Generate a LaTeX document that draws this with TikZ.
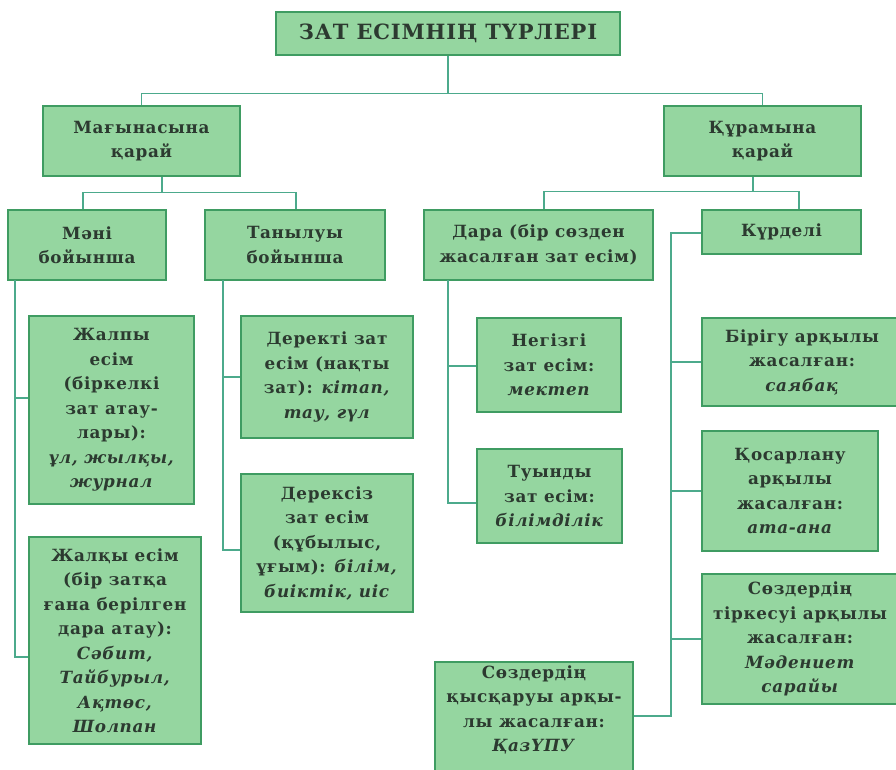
\documentclass[tikz,border=0pt]{standalone}
\usepackage{fontspec}
\usetikzlibrary{calc}
\setmainfont{DejaVu Serif}[LetterSpace=4]
\definecolor{fillcol}{HTML}{95D6A0}
\definecolor{bordcol}{HTML}{3F9C62}
\definecolor{linecol}{HTML}{4CAA8C}
\definecolor{txtcol}{HTML}{2C3A30}
\begin{document}
\begin{tikzpicture}[x=1pt,y=-1pt,
  box/.style={draw=bordcol, fill=fillcol, line width=1.3pt, inner sep=0pt, align=center,
    text=txtcol, font=\bfseries\fontsize{16.8}{24.5}\selectfont},
  plain/.style={inner sep=0pt, align=center, text=txtcol, font=\bfseries\fontsize{16.8}{24.5}\selectfont},
  conn/.style={draw=linecol, line width=1.5pt}]
\useasboundingbox (0,0) rectangle (896,770);
\fill[white] (0,0) rectangle (896,770);
% boxes
\node[box, minimum width=344pt, minimum height=43pt, font=\bfseries\fontsize{21}{24}\selectfont] (title) at (448,33.5) {ЗАТ ЕСІМНІҢ ТҮРЛЕРІ};
\node[box, minimum width=197pt, minimum height=70pt] (mag) at (141.5,141) {Мағынасына\\қарай};
\node[box, minimum width=197pt, minimum height=70pt] (qur) at (762.5,141) {Құрамына\\қарай};
\node[box, minimum width=158pt, minimum height=70pt] (mani) at (87,245) {Мәні\\бойынша};
\node[box, minimum width=180pt, minimum height=70pt] (tany) at (295,245) {Танылуы\\бойынша};
\node[box, minimum width=229pt, minimum height=70pt] (dara) at (538.5,245) {Дара (бір сөзден\\жасалған зат есім)};
\node[box, minimum width=159pt, minimum height=44pt] (kurd) at (781.5,232) {Күрделі};
\node[box, minimum width=165pt, minimum height=188pt] (zhalpy) at (111.5,410) {Жалпы\\есім\\(біркелкі\\зат атау-\\лары):\\\textit{ұл, жылқы,}\\\textit{журнал}};
\node[box, minimum width=172pt, minimum height=207pt] (zhalqy) at (115,640.5) {Жалқы есім\\(бір затқа\\ғана берілген\\дара атау):\\\textit{Сәбит,}\\\textit{Тайбурыл,}\\\textit{Ақтөс,}\\\textit{Шолпан}};
\node[box, minimum width=172pt, minimum height=122pt] (derekti) at (327,377) {Деректі зат\\есім (нақты\\зат): \textit{кітап,}\\\textit{тау, гүл}};
\node[box, minimum width=172pt, minimum height=138pt] (dereksiz) at (327,543) {Дерексіз\\зат есім\\(құбылыс,\\ұғым): \textit{білім,}\\\textit{биіктік, иіс}};
\node[box, minimum width=144pt, minimum height=94pt] (negizgi) at (549,365) {Негізгі\\зат есім:\\\textit{мектеп}};
\node[box, minimum width=145pt, minimum height=94pt] (tuyndy) at (549.5,496) {Туынды\\зат есім:\\\textit{білімділік}};
\node[box, minimum width=200pt, minimum height=88pt] (birigu) at (802,362) {Бірігу арқылы\\жасалған:\\\textit{саябақ}};
\node[box, minimum width=176pt, minimum height=120pt] (qosar) at (790,491) {Қосарлану\\арқылы\\жасалған:\\\textit{ата-ана}};
\node[box, minimum width=196pt, minimum height=130pt] (tirkes) at (800,639) {Сөздердің\\тіркесуі арқылы\\жасалған:\\\textit{Мәдениет}\\\textit{сарайы}};
\node[box, minimum width=198pt, minimum height=113pt] (qysq) at (534,718.5) {};
\node[plain] (qysqtext) at (534,710) {Сөздердің\\қысқаруы арқы-\\лы жасалған:\\\textit{ҚазҮПУ}};
% connectors
\coordinate (t1) at ($(title.south)+(0,38)$);
\draw[conn] (title.south) -- (t1);
\draw[conn] (mag.north) |- (t1) -| (qur.north);
% left subtree
\coordinate (m0) at ($(mag.south)+(20.5,0)$);
\coordinate (m1) at ($(m0)+(0,16)$);
\draw[conn] (m0) -- (m1);
\draw[conn] ($(mani.north)+(-4,0)$) |- (m1) -| ($(tany.north)+(1,0)$);
% right subtree
\coordinate (q0) at ($(qur.south)+(-9.5,0)$);
\coordinate (q1) at ($(q0)+(0,15)$);
\draw[conn] (q0) -- (q1);
\draw[conn] ($(dara.north)+(5.5,0)$) |- (q1) -| ($(kurd.north)+(17.5,0)$);
% Мәні
\coordinate (mv) at (15,280);
\draw[conn] (mv) |- ($(zhalqy.west)+(0,16.5)$);
\draw[conn] ($(mv)+(0,118)$) -- ($(zhalpy.west)+(0,-12)$);
% Танылуы
\coordinate (tv) at (223,280);
\draw[conn] (tv) |- ($(dereksiz.west)+(0,7)$);
\draw[conn] (tv |- derekti.west) -- (derekti.west);
% Дара
\coordinate (dv) at (448,280);
\draw[conn] (dv) |- ($(tuyndy.west)+(0,7)$);
\draw[conn] ($(dv)+(0,86)$) -- ($(negizgi.west)+(0,1)$);
% Күрделі
\coordinate (kv) at (671,233);
\draw[conn] ($(kurd.west)+(0,1)$) -- (kv) |- ($(qysq.east)+(0,-2.5)$);
\draw[conn] (kv |- birigu.west) -- (birigu.west);
\draw[conn] (kv |- qosar.west) -- (qosar.west);
\draw[conn] (kv |- tirkes.west) -- (tirkes.west);
\end{tikzpicture}
\end{document}
